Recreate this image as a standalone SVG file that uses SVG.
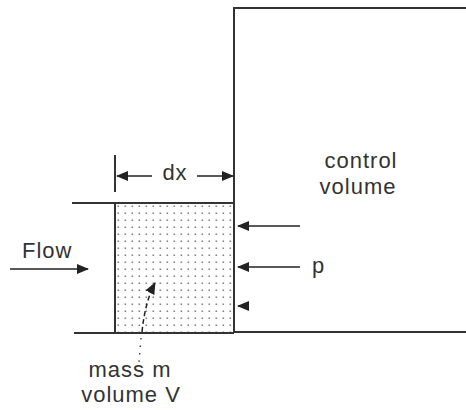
<svg xmlns="http://www.w3.org/2000/svg" width="466" height="410" viewBox="0 0 466 410">
<defs>
<pattern id="dots" x="115" y="203" width="7" height="7" patternUnits="userSpaceOnUse">
<rect x="2.5" y="2.5" width="1.6" height="1.4" fill="#777"/>
</pattern>
<marker id="ah" viewBox="0 0 12 12" refX="11" refY="6" markerWidth="12" markerHeight="12" markerUnits="userSpaceOnUse" orient="auto">
<path d="M0,1 L12,6 L0,11 Z" fill="#222"/>
</marker>
<style>
.ln{stroke:#333;stroke-width:2;fill:none}
.ar{stroke:#222;stroke-width:1.5;fill:none}
.t{font-family:"Liberation Sans",Arial,sans-serif;font-size:22px;letter-spacing:1px;fill:#333}
</style>
</defs>
<g id="control-volume">
<path class="ln" d="M466,8 H234 V332 H466"/>
<text class="t" x="361" y="168" text-anchor="middle">control</text>
<text class="t" x="358" y="194" text-anchor="middle">volume</text>
</g>
<g id="duct">
<line class="ln" x1="72" y1="203" x2="234" y2="203"/>
<line class="ln" x1="74" y1="333" x2="234" y2="333"/>
</g>
<g id="mass-element">
<rect x="116" y="204" width="118" height="128" fill="url(#dots)"/>
<line class="ln" x1="115" y1="203" x2="115" y2="333"/>
<text class="t" x="130" y="377" text-anchor="middle">mass m</text>
<text class="t" x="131" y="402" text-anchor="middle">volume V</text>
</g>
<g id="flow">
<text class="t" x="22" y="258">Flow</text>
</g>
<g id="pressure">
<text class="t" x="312" y="273">p</text>
</g>
<g id="dx">
<line class="ln" x1="115" y1="155" x2="115" y2="192"/>
<text class="t" x="175" y="180" text-anchor="middle">dx</text>
</g>
<g id="connectors">
<line class="ar" x1="152" y1="176" x2="117" y2="176" marker-end="url(#ah)"/>
<line class="ar" x1="197" y1="176" x2="233" y2="176" marker-end="url(#ah)"/>
<line class="ar" x1="10" y1="269" x2="88" y2="269" marker-end="url(#ah)"/>
<line class="ar" x1="300" y1="226" x2="238" y2="226" marker-end="url(#ah)"/>
<line class="ar" x1="300" y1="267" x2="238" y2="267" marker-end="url(#ah)"/>
<line class="ar" x1="249" y1="306" x2="238" y2="306" marker-end="url(#ah)"/>
<path class="ar" d="M142,332 Q145,302 155,283" stroke-dasharray="5,3" marker-end="url(#ah)"/>
<path d="M141,338 L139,362" stroke="#444" stroke-width="1.5" stroke-dasharray="1.5,6" fill="none"/>
</g>
</svg>
